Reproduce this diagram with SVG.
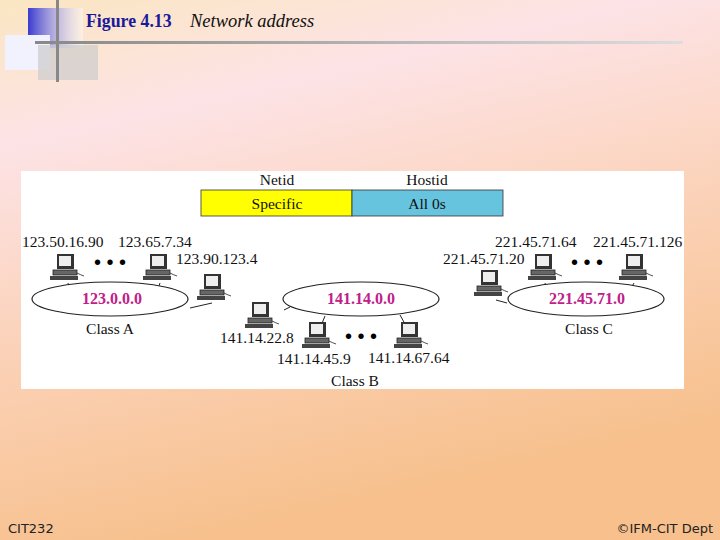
<svg xmlns="http://www.w3.org/2000/svg" width="720" height="540" viewBox="0 0 720 540">
<defs>
<linearGradient id="bg" x1="0" y1="0" x2="0.3" y2="1">
<stop offset="0" stop-color="#fbe6c2"/><stop offset="0.25" stop-color="#fde3e6"/><stop offset="0.6" stop-color="#fbd2b8"/><stop offset="1" stop-color="#f7c08c"/>
</linearGradient>
<linearGradient id="bl" x1="0" x2="1"><stop offset="0" stop-color="#3a3ad0"/><stop offset="1" stop-color="#ffffff" stop-opacity="0.4"/></linearGradient>
<linearGradient id="ln" x1="0" x2="1"><stop offset="0" stop-color="#888"/><stop offset="1" stop-color="#ddd"/></linearGradient>
<symbol id="pc" viewBox="0 0 34 28" overflow="visible">
<rect x="7" y="0" width="17" height="15" fill="#333"/>
<rect x="9" y="2" width="12" height="10" fill="#eee"/>
<rect x="3" y="16" width="24" height="5" fill="#666" stroke="#222" stroke-width="0.8"/>
<rect x="0" y="22" width="28" height="4" fill="#444"/>
<path d="M27 19 q4 2 7 3" stroke="#222" fill="none" stroke-width="0.8"/>
</symbol>
</defs>
<style>
.t{font-family:"Liberation Serif",serif;font-size:15.5px;fill:#111}
.n{font-family:"Liberation Serif",serif;font-size:16px;font-weight:bold;fill:#c0208a;text-anchor:middle}
.e{fill:#fff;stroke:#222;stroke-width:1.2}
.w{stroke:#222;stroke-width:1;fill:none}
</style>
<rect width="720" height="540" fill="url(#bg)"/>
<rect x="28" y="8" width="55" height="40" fill="url(#bl)"/>
<rect x="5" y="35" width="45" height="35" fill="#f2f2ff"/>
<rect x="38" y="45" width="60" height="35" fill="#ccc" opacity="0.7"/>
<rect x="56" y="0" width="3" height="82" fill="#888"/>
<rect x="35" y="41" width="648" height="3" fill="url(#ln)"/>
<text x="86" y="27" font-family="Liberation Serif,serif" font-size="17.8" font-weight="bold" fill="#1a1a9a">Figure 4.13</text>
<text x="190" y="27" font-family="Liberation Serif,serif" font-size="18.5" font-style="italic" fill="#111">Network address</text>
<rect x="21" y="171" width="663" height="218" fill="#fff"/>
<g id="table">
<text class="t" x="277" y="185" text-anchor="middle">Netid</text>
<text class="t" x="427" y="185" text-anchor="middle">Hostid</text>
<rect x="201" y="190" width="151" height="26" fill="#ffff00" stroke="#333" stroke-width="0.8"/>
<rect x="352" y="190" width="151" height="26" fill="#66c4de" stroke="#333" stroke-width="0.8"/>
<text class="t" x="277" y="209" text-anchor="middle">Specific</text>
<text class="t" x="427" y="209" text-anchor="middle">All 0s</text>
</g>
<g id="connectors">
<path class="w" d="M68 283 L70 290 M160 283 L158 289 M212 303 L190 308 M284 310 L290 307 M318 333 L325 316 M410 333 L400 315 M496 300 L507 303 M545 283 L547 290 M634 283 L630 290"/>
</g>
<g id="classA">
<ellipse class="e" cx="110" cy="299" rx="78" ry="17"/>
<text class="n" x="112" y="304">123.0.0.0</text>
<text class="t" x="110" y="334" text-anchor="middle">Class A</text>
<use href="#pc" x="50" y="254" width="34" height="28"/>
<use href="#pc" x="143" y="254" width="34" height="28"/>
<use href="#pc" x="197" y="274" width="34" height="28"/>
<text class="t" x="22" y="247">123.50.16.90</text>
<text class="t" x="118" y="247">123.65.7.34</text>
<text class="t" x="176" y="264">123.90.123.4</text>
<text x="110" y="269" font-size="20" font-family="Liberation Sans,sans-serif" text-anchor="middle">• • •</text>
</g>
<g id="classB">
<ellipse class="e" cx="361" cy="299" rx="78" ry="17"/>
<text class="n" x="361" y="304">141.14.0.0</text>
<text class="t" x="355" y="386" text-anchor="middle">Class B</text>
<use href="#pc" x="245" y="302" width="34" height="28"/>
<use href="#pc" x="302" y="322" width="34" height="28"/>
<use href="#pc" x="394" y="322" width="34" height="28"/>
<text class="t" x="220" y="343">141.14.22.8</text>
<text class="t" x="277" y="364">141.14.45.9</text>
<text class="t" x="368" y="363">141.14.67.64</text>
<text x="361" y="343" font-size="20" font-family="Liberation Sans,sans-serif" text-anchor="middle">• • •</text>
</g>
<g id="classC">
<ellipse class="e" cx="586" cy="299" rx="78" ry="17"/>
<text class="n" x="587" y="304">221.45.71.0</text>
<text class="t" x="589" y="334" text-anchor="middle">Class C</text>
<use href="#pc" x="474" y="270" width="34" height="28"/>
<use href="#pc" x="528" y="254" width="34" height="28"/>
<use href="#pc" x="619" y="254" width="34" height="28"/>
<text class="t" x="495" y="247">221.45.71.64</text>
<text class="t" x="593" y="247">221.45.71.126</text>
<text class="t" x="443" y="264">221.45.71.20</text>
<text x="587" y="269" font-size="20" font-family="Liberation Sans,sans-serif" text-anchor="middle">• • •</text>
</g>
<text x="8" y="533" font-family="DejaVu Sans,sans-serif" font-size="13" fill="#222">CIT232</text>
<text x="713" y="533" font-family="DejaVu Sans,sans-serif" font-size="13" fill="#222" text-anchor="end">©IFM-CIT Dept</text>
</svg>
